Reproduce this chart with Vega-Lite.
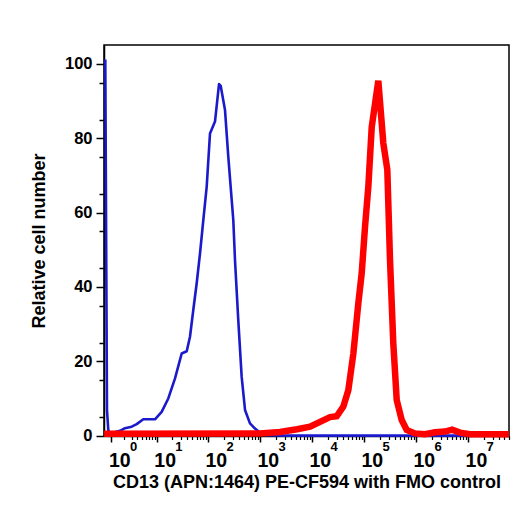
{
  "$schema": "https://vega.github.io/schema/vega-lite/v6.json",
  "width": 405,
  "height": 391,
  "autosize": {"type": "none"},
  "padding": {"left": 104, "top": 45, "right": 21, "bottom": 71},
  "background": "white",
  "config": {
    "view": {"stroke": "black", "strokeWidth": 1.5},
    "axis": {"grid": false, "domainColor": "black", "tickColor": "black", "labelColor": "black", "titleColor": "black", "labelFont": "Liberation Sans", "titleFont": "Liberation Sans", "labelFontWeight": "bold", "titleFontWeight": "bold", "labelOverlap": false, "labelFlush": false}
  },
  "data": {"values": [
    {"s": "b", "x": 0.664, "y": 101.2}, {"s": "b", "x": 0.747, "y": 6.9}, {"s": "b", "x": 0.815, "y": 1.5}, {"s": "b", "x": 0.91, "y": 0.6},
    {"s": "b", "x": 1.64, "y": 1.3}, {"s": "b", "x": 2.145, "y": 2.0}, {"s": "b", "x": 3.02, "y": 2.4}, {"s": "b", "x": 3.87, "y": 3.1},
    {"s": "b", "x": 5.32, "y": 4.4}, {"s": "b", "x": 9.2, "y": 4.4}, {"s": "b", "x": 12.5, "y": 6.4}, {"s": "b", "x": 16.9, "y": 10},
    {"s": "b", "x": 22.9, "y": 15.4}, {"s": "b", "x": 30.9, "y": 22.1}, {"s": "b", "x": 38.7, "y": 22.7}, {"s": "b", "x": 44.8, "y": 26.6},
    {"s": "b", "x": 51.9, "y": 33.8}, {"s": "b", "x": 60.4, "y": 41}, {"s": "b", "x": 70.0, "y": 49}, {"s": "b", "x": 81.1, "y": 58},
    {"s": "b", "x": 94.3, "y": 67}, {"s": "b", "x": 109.2, "y": 81.3}, {"s": "b", "x": 136.3, "y": 84.5}, {"s": "b", "x": 163, "y": 94.6},
    {"s": "b", "x": 175.6, "y": 94.1}, {"s": "b", "x": 212.6, "y": 87.6}, {"s": "b", "x": 246, "y": 75}, {"s": "b", "x": 307, "y": 58},
    {"s": "b", "x": 331, "y": 47.2}, {"s": "b", "x": 383, "y": 31}, {"s": "b", "x": 445, "y": 15.8}, {"s": "b", "x": 516, "y": 6.9},
    {"s": "b", "x": 643, "y": 3.3}, {"s": "b", "x": 803, "y": 1.9}, {"s": "b", "x": 1002, "y": 0.8}, {"s": "b", "x": 1270, "y": 0.1},
    {"s": "b", "x": 3000, "y": 0}, {"s": "b", "x": 61000000, "y": 0},
    {"s": "r", "x": 0.61, "y": 0.5}, {"s": "r", "x": 1002, "y": 0.6}, {"s": "r", "x": 2430, "y": 1.0}, {"s": "r", "x": 5156, "y": 1.7},
    {"s": "r", "x": 9168, "y": 2.4}, {"s": "r", "x": 14284, "y": 3.7}, {"s": "r", "x": 22230, "y": 5.0}, {"s": "r", "x": 29900, "y": 5.2},
    {"s": "r", "x": 40040, "y": 7.8}, {"s": "r", "x": 49960, "y": 12.2}, {"s": "r", "x": 62360, "y": 22}, {"s": "r", "x": 77800, "y": 35.6},
    {"s": "r", "x": 90400, "y": 43.7}, {"s": "r", "x": 104700, "y": 56.2}, {"s": "r", "x": 121200, "y": 67}, {"s": "r", "x": 140800, "y": 83},
    {"s": "r", "x": 188500, "y": 95.5}, {"s": "r", "x": 235200, "y": 78.7}, {"s": "r", "x": 280800, "y": 71.5}, {"s": "r", "x": 316400, "y": 47.2},
    {"s": "r", "x": 366000, "y": 24.8}, {"s": "r", "x": 425600, "y": 9.6}, {"s": "r", "x": 530800, "y": 4.2}, {"s": "r", "x": 662800, "y": 1.5},
    {"s": "r", "x": 956800, "y": 0.6}, {"s": "r", "x": 1490000, "y": 0.4}, {"s": "r", "x": 2320000, "y": 0.9}, {"s": "r", "x": 3610000, "y": 1.1},
    {"s": "r", "x": 4930000, "y": 1.6}, {"s": "r", "x": 7020000, "y": 0.8}, {"s": "r", "x": 10940000, "y": 0.4}, {"s": "r", "x": 61000000, "y": 0.4}
  ]},
  "layer": [
    {
      "transform": [{"filter": "datum.s === 'b'"}],
      "mark": {"type": "line", "color": "#1a1acc", "strokeWidth": 2.6, "strokeJoin": "round"},
      "encoding": {
        "x": {"field": "x", "type": "quantitative",
          "scale": {"type": "symlog", "constant": 0.4, "domain": [0.605, 61300000], "nice": false, "zero": false},
          "axis": {"orient": "bottom", "values": [1, 10, 100, 1000, 10000, 100000, 1000000, 10000000], "labelExpr": "'10'", "labelAlign": "left", "labelOffset": -3, "labelFontSize": 19.5, "labelBaseline": "top", "labelPadding": 9.5, "tickSize": 6, "tickWidth": 1.5, "domainWidth": 1.5,
            "title": "CD13 (APN:1464) PE-CF594 with FMO control", "titleFontSize": 18, "titleY": 51.5, "titleBaseline": "alphabetic"}},
        "y": {"field": "y", "type": "quantitative",
          "scale": {"domain": [-0.1, 105.1], "nice": false, "zero": false},
          "axis": {"orient": "left", "values": [0, 20, 40, 60, 80, 100], "labelFontSize": 16.5, "tickSize": 8, "tickWidth": 1.5, "labelPadding": 4, "domainWidth": 1.5,
            "title": "Relative cell number", "titleFontSize": 18, "titleX": -65, "titleY": 195.5, "titleAngle": -90, "titleAlign": "center", "titleBaseline": "middle"}}
      }
    },
    {
      "transform": [{"filter": "datum.s === 'r'"}],
      "mark": {"type": "line", "color": "#ff0000", "strokeWidth": 6.5, "strokeJoin": "miter"},
      "encoding": {
        "x": {"field": "x", "type": "quantitative",
          "scale": {"type": "symlog", "constant": 0.4, "domain": [0.605, 61300000], "nice": false, "zero": false},
          "axis": {"orient": "bottom", "values": [2, 3, 4, 5, 6, 7, 8, 9, 20, 30, 40, 50, 60, 70, 80, 90, 200, 300, 400, 500, 600, 700, 800, 900, 2000, 3000, 4000, 5000, 6000, 7000, 8000, 9000, 20000, 30000, 40000, 50000, 60000, 70000, 80000, 90000, 200000, 300000, 400000, 500000, 600000, 700000, 800000, 900000, 2000000, 3000000, 4000000, 5000000, 6000000, 7000000, 8000000, 9000000, 20000000, 30000000, 40000000, 50000000, 60000000],
            "labels": false, "tickSize": 3.5, "tickWidth": 1.2, "domain": false, "title": null}},
        "y": {"field": "y", "type": "quantitative",
          "scale": {"domain": [-0.1, 105.1], "nice": false, "zero": false},
          "axis": {"orient": "left", "values": [5, 15, 25, 35, 45, 55, 65, 75, 85, 95], "labels": false, "tickSize": 5, "tickWidth": 1.5, "domain": false, "title": null}}
      }
    },
    {
      "transform": [{"filter": "datum.s === 'b'"}],
      "mark": {"type": "point", "opacity": 0},
      "encoding": {
        "x": {"field": "x", "type": "quantitative",
          "scale": {"type": "symlog", "constant": 0.4, "domain": [0.605, 61300000], "nice": false, "zero": false},
          "axis": {"orient": "bottom", "values": [1, 10, 100, 1000, 10000, 100000, 1000000, 10000000], "labelExpr": "'' + round(log(datum.value) / LN10)", "labelAlign": "left", "labelOffset": 18, "labelFontSize": 13, "labelBaseline": "top", "labelPadding": 4.5, "ticks": false, "tickSize": 0, "domain": false, "title": null}},
        "y": {"field": "y", "type": "quantitative",
          "scale": {"domain": [-0.1, 105.1], "nice": false, "zero": false},
          "axis": null}
      }
    }
  ],
  "resolve": {"axis": {"x": "independent", "y": "independent"}}
}
